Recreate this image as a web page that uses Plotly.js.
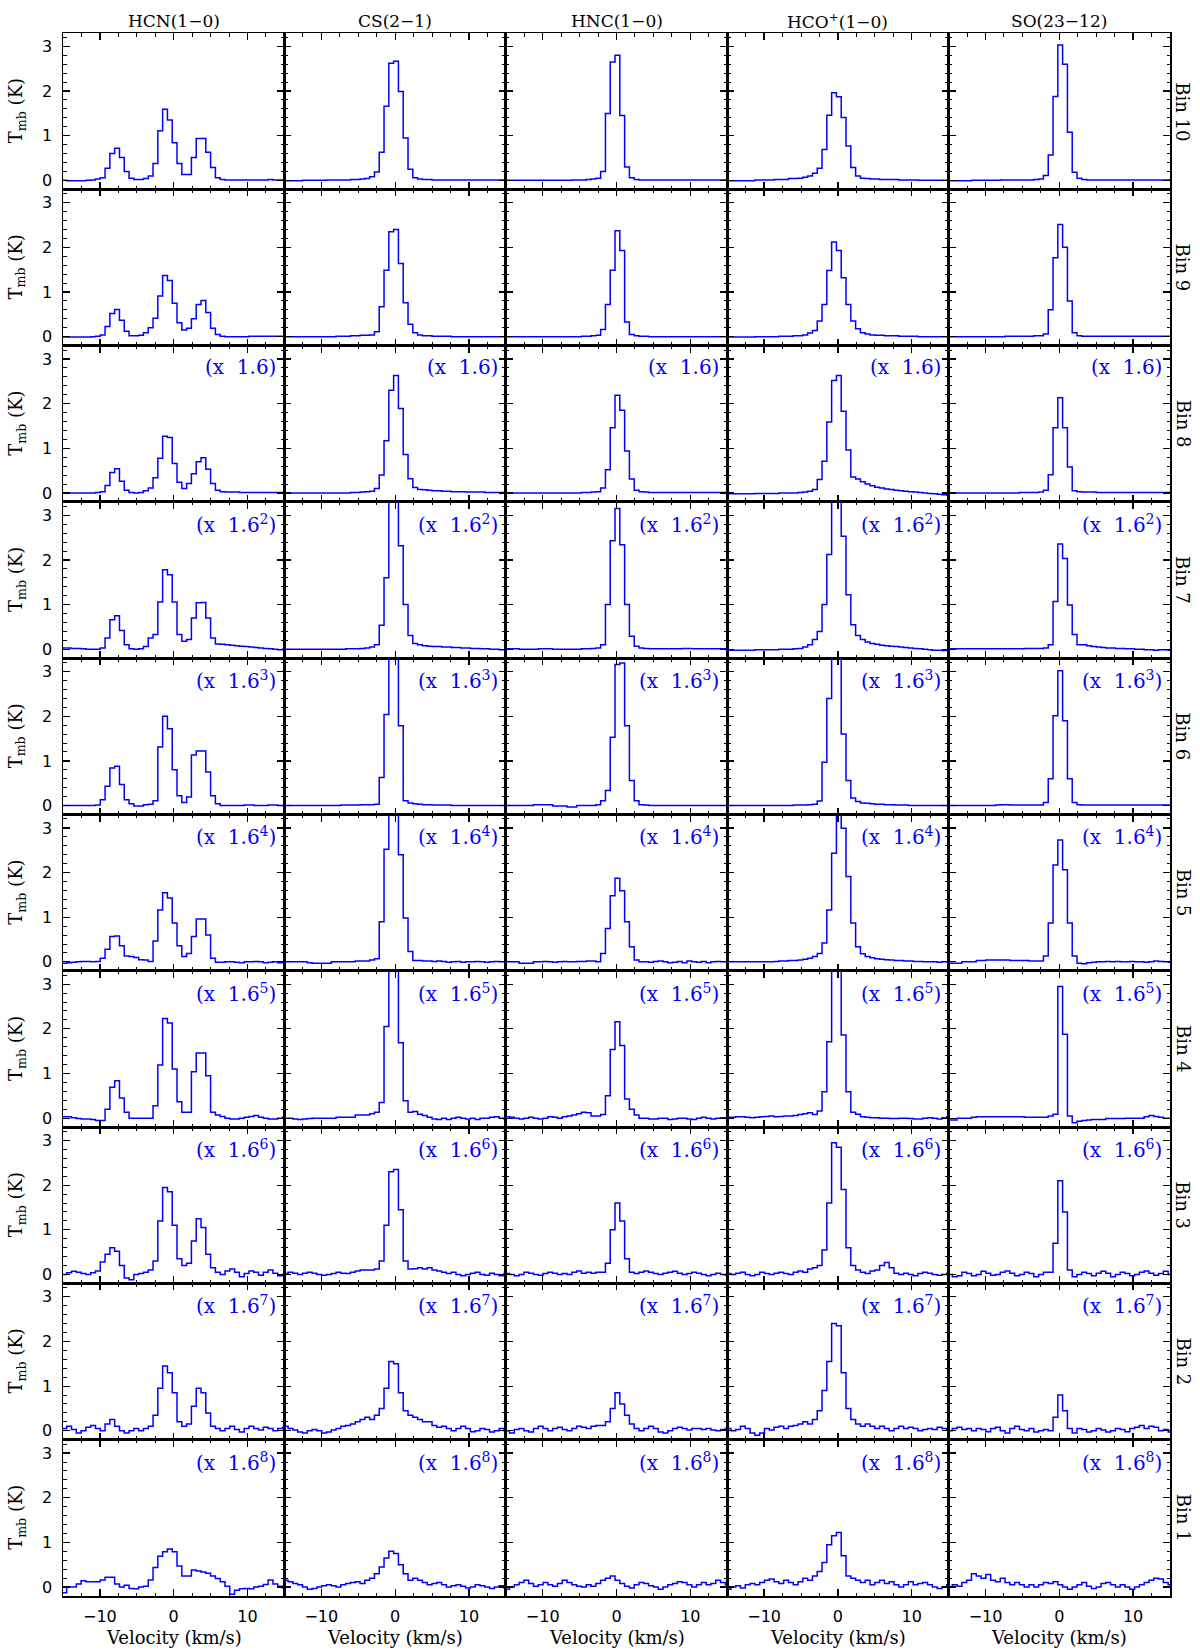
<!DOCTYPE html>
<html>
<head>
<meta charset="utf-8">
<script src="https://cdn.plot.ly/plotly-3.0.1.min.js"></script>
<style>html,body{margin:0;padding:0;background:#fff}</style>
</head>
<body>
<div id="chart" style="width:1200px;height:1652px"></div>
<script>
// channel centre velocities (km/s)
const velocity = [-14.825,-14.175,-13.525,-12.875,-12.225,-11.575,-10.925,-10.275,-9.625,-8.975,
 -8.325,-7.675,-7.025,-6.375,-5.725,-5.075,-4.425,-3.775,-3.125,-2.475,
 -1.825,-1.175,-0.525,0.125,0.775,1.425,2.075,2.725,3.375,4.025,
 4.675,5.325,5.975,6.625,7.275,7.925,8.575,9.225,9.875,10.525,
 11.175,11.825,12.475,13.125,13.775,14.425,15.075];

const lineNames = ['HCN(1\u22120)','CS(2\u22121)','HNC(1\u22120)','HCO<sup>+</sup>(1\u22120)','SO(23\u221212)'];
const binNames = ['Bin 10','Bin 9','Bin 8','Bin 7','Bin 6','Bin 5','Bin 4','Bin 3','Bin 2','Bin 1'];
const scaleExponents = [0,0,1,2,3,4,5,6,7,8];
const xTickVals = [-10,0,10];
const yTickVals = [0,1,2,3];

// ---- Bin 10 ----
const bin10_HCN = [0,-0.01,-0.01,-0.01,-0.01,0,0.01,0.03,0.06,0.27,
 0.6,0.72,0.51,0.2,0.05,0.02,0.02,0.04,0.1,0.38,
 1.11,1.59,1.35,0.84,0.38,0.13,0.13,0.51,0.94,0.94,
 0.63,0.29,0.06,0.02,0.01,0.01,0.01,0.01,0.01,0.01,
 0.01,0.01,0.01,0.02,0.01,0.01,0.01];
const bin10_CS = [-0.01,-0.01,-0.01,-0.01,0,0,0,0,0,0.01,
 0.01,0.01,0.01,0.01,0.02,0.02,0.03,0.04,0.08,0.19,
 0.63,1.66,2.62,2.67,1.99,0.95,0.25,0.06,0.03,0.02,
 0.02,0.01,0.01,0.01,0.01,0.01,0.01,0.01,0.01,0.01,
 0.01,0.01,0.01,0.01,0.01,0.01,0.01];
const bin10_HNC = [0,0,0,0,0,0,0,0,0,0,
 0,0,0,0,0.01,0.01,0.01,0.02,0.03,0.05,
 0.2,1.5,2.65,2.8,1.45,0.3,0.06,0.02,0.01,0.01,
 0.01,0.01,0.01,0.01,0.01,0.01,0.01,0.01,0.01,0.01,
 0.01,0.01,0.01,0.01,0.01,0.01,0.01];
const bin10_HCOp = [-0.01,-0.01,-0.01,-0.01,-0.01,-0.01,0.01,0.01,0.01,0.01,
 0.02,0.02,0.02,0.04,0.04,0.05,0.07,0.1,0.16,0.27,
 0.69,1.46,1.96,1.87,1.41,0.77,0.29,0.1,0.05,0.04,
 0.03,0.03,0.02,0.02,0.02,0.02,0.01,0.01,0.01,0.01,
 0,0,0,0,0,0,0];
const bin10_SO = [-0.01,-0.01,-0.01,-0.01,-0.01,0,0,0,0,0,
 0,0.01,0.01,0.01,0.01,0.01,0.01,0.01,0.02,0.03,
 0.11,0.57,1.88,3.03,2.6,1.08,0.18,0.05,0.02,0.01,
 0.01,0.01,0.01,0.01,0.01,0.01,0.01,0.01,0.01,0.01,
 0.01,0.01,0.01,0.01,0.01,0.01,0.01];

// ---- Bin 9 ----
const bin9_HCN = [-0.01,-0.01,-0.01,-0.01,-0.01,-0.01,0,0.01,0.04,0.23,
 0.52,0.61,0.37,0.12,0.02,0.02,0.03,0.09,0.2,0.41,
 0.91,1.37,1.26,0.75,0.31,0.15,0.19,0.4,0.72,0.81,
 0.54,0.19,0.05,0.01,0,0,0,0,0,0.01,
 0.01,0.01,0.01,0.01,0.01,0.01,0.01];
const bin9_CS = [0,0,0,0,0,0,0,0,0,0,
 0,0.01,0.01,0.01,0.02,0.02,0.03,0.03,0.04,0.11,
 0.67,1.49,2.35,2.4,1.64,0.76,0.28,0.09,0.04,0.02,
 0.02,0.01,0.01,0.01,0.01,0,0,0,0,0,
 0,0,0,0,0,0,0];
const bin9_HNC = [0,0,0,0,0,0,0,0,0,0,
 0,0,0,0,0,0,0.01,0.01,0.02,0.03,
 0.16,0.72,1.49,2.37,1.93,0.33,0.05,0.02,0.01,0.01,
 0,0,0,0,0,0,0,0,0,0,
 0,0,0,0,0,0,0];
const bin9_HCOp = [-0.01,-0.01,-0.01,-0.01,-0.01,-0.01,0,0,0,0,
 0,0.01,0.01,0.01,0.02,0.02,0.04,0.08,0.14,0.35,
 0.72,1.48,2.12,1.93,1.32,0.72,0.35,0.18,0.09,0.06,
 0.04,0.03,0.03,0.02,0.02,0.02,0.01,0.01,0.01,0.01,
 0,0,0,0,0,0,0];
const bin9_SO = [0,0,0,0,0,0,0,0,0,0,
 0,0,0.01,0.01,0.01,0.01,0.01,0.01,0.02,0.02,
 0.06,0.6,1.77,2.51,2.0,0.8,0.09,0.02,0.01,0.01,
 0.01,0.01,0.01,0.01,0.01,0.01,0.01,0.01,0.01,0.01,
 0.01,0.01,0.01,0.01,0.01,0.01,0.01];

// ---- Bin 8 ----
const bin8_HCN = [0,0,0,0,0,0,0,0.01,0.03,0.17,
 0.46,0.54,0.26,0.06,0.01,0,0.01,0.05,0.11,0.34,
 0.78,1.27,1.24,0.66,0.24,0.1,0.21,0.43,0.7,0.79,
 0.53,0.21,0.06,0.03,0.02,0.02,0.02,0.01,0.01,0.01,
 0.01,0.01,0.01,0.01,0.01,0.01,0.01];
const bin8_CS = [0,0,0,0,0,0,0,0,0,0,
 0,0,0,0,0.01,0.01,0.02,0.03,0.04,0.1,
 0.4,1.17,2.3,2.63,1.89,0.86,0.32,0.12,0.08,0.07,
 0.06,0.05,0.05,0.04,0.04,0.03,0.03,0.03,0.02,0.02,
 0.02,0.02,0.01,0.01,0.01,0.01,0.01];
const bin8_HNC = [0,0,0,0,0,0,0,0,0,0,
 0,0,0,0,0,0,0.01,0.01,0.02,0.03,
 0.11,0.52,1.46,2.19,1.85,0.94,0.31,0.06,0.03,0.02,
 0.01,0.01,0.01,0.01,0.01,0.01,0.01,0.01,0.01,0.01,
 0.01,0.01,0.01,0.01,0.01,0.01,0.01];
const bin8_HCOp = [-0.02,-0.02,-0.02,-0.02,-0.02,-0.02,-0.01,-0.01,-0.01,-0.01,
 -0.01,0,0,0,0,0.01,0.02,0.04,0.08,0.3,
 0.71,1.59,2.52,2.63,1.83,0.96,0.36,0.31,0.25,0.2,
 0.16,0.13,0.11,0.09,0.08,0.06,0.05,0.04,0.03,0.02,
 0.01,0,-0.01,-0.02,-0.03,-0.04,-0.05];
const bin8_SO = [0,0,0,0,0,0,0,0,0,0,
 0,0,0,0,0,0.01,0.01,0.01,0.01,0.02,
 0.06,0.41,1.46,2.13,1.46,0.58,0.05,0.03,0.02,0.02,
 0.02,0.01,0.01,0.01,0.01,0.01,0.01,0.01,0.01,0.01,
 0.01,0.01,0.01,0.01,0.01,0.01,0.01];

// ---- Bin 7 ----
const bin7_HCN = [0.03,0.03,0.02,0.02,0.01,0,0,0,0.03,0.25,
 0.66,0.75,0.42,0.1,0.01,0,0.01,0.06,0.25,0.33,
 1.06,1.78,1.67,1.06,0.33,0.18,0.22,0.7,1.04,1.05,
 0.7,0.25,0.12,0.11,0.1,0.09,0.08,0.07,0.06,0.05,
 0.04,0.03,0.02,0.01,0,-0.01,0];
const bin7_CS = [0,0,0,0,0,0,0,0,0,0,
 0,0,0,0.01,0.01,0.01,0.02,0.03,0.05,0.1,
 0.54,1.6,3.9,4.4,2.32,1.0,0.31,0.13,0.1,0.08,
 0.07,0.06,0.06,0.05,0.05,0.04,0.04,0.03,0.03,0.02,
 0.02,0.01,0.01,0,0,-0.01,-0.01];
const bin7_HNC = [0.01,0.01,0.01,0,0,0,0,0.01,0.01,0.01,
 0,0,0,0,0,0,0.01,0.01,0.02,0.03,
 0.1,1.0,2.43,3.15,2.34,1.0,0.29,0.07,0.03,0.02,
 0.01,0.01,0.01,0.01,0.01,0.01,0.01,0.02,0.02,0.01,
 0.01,0.01,0.01,0.01,0.01,0.01,0.01];
const bin7_HCOp = [-0.02,-0.02,-0.02,-0.02,-0.02,-0.02,-0.01,-0.01,-0.01,-0.01,
 -0.01,0,0,0,0.01,0.02,0.05,0.1,0.22,0.4,
 1.0,2.12,3.8,4.0,2.53,1.22,0.55,0.31,0.22,0.16,
 0.13,0.11,0.09,0.08,0.07,0.06,0.05,0.04,0.03,0.02,
 0.01,0,-0.01,-0.02,-0.02,-0.03,-0.03];
const bin7_SO = [0.01,0.01,0.01,0.01,0.01,0.01,0.01,0.01,0.01,0.01,
 0.01,0.01,0.01,0.01,0.01,0.01,0.02,0.02,0.02,0.02,
 0.03,0.1,1.07,2.36,2.03,0.99,0.33,0.1,0.1,0.08,
 0.06,0.05,0.04,0.03,0.03,0.02,0.02,0.01,0.01,0,
 0,-0.01,-0.01,-0.02,-0.01,-0.01,-0.02];

// ---- Bin 6 ----
const bin6_HCN = [0,0,0,0,0,0,0,0.01,0.13,0.43,
 0.84,0.88,0.47,0.13,0.04,-0.01,-0.01,0.02,0.03,0.11,
 1.31,2.0,1.72,0.8,0.22,0.07,0.19,1.13,1.22,1.22,
 0.75,0.22,0.04,0,0,0,0,0,0.01,0.01,
 0,0,0,0.01,0.01,0,0];
const bin6_CS = [0,0,0,0,0,0,0,0,0,0,
 0,0,0.01,0.01,0.01,0.01,0.02,0.02,0.02,0.03,
 0.63,2.04,4.5,4.5,1.79,0.11,0.06,0.04,0.03,0.02,
 0.02,0.01,0.01,0.01,0.01,0,0,0,0,0,
 0,0,0,0,0,0,0];
const bin6_HNC = [0,0,0,0,0,0,0.02,0.02,0.02,0.02,
 -0.01,-0.01,-0.01,-0.03,-0.03,0,0,0,0,0.02,
 0.11,0.34,1.53,3.16,3.19,1.79,0.56,0.11,0.02,0.01,
 0,0,0,0,0,0,0,0,0,0,
 0,0,0,0,0,0,0];
const bin6_HCOp = [0,0,0,0,0,0,0,0,0,0,
 0,0,0,0,0.01,0.01,0.01,0.02,0.03,0.1,
 0.97,2.4,4.5,4.5,1.6,0.56,0.17,0.09,0.06,0.05,
 0.04,0.03,0.03,0.02,0.02,0.01,0.01,0.01,0,0,
 0,0,0,0,0,0,0];
const bin6_SO = [0,0,0,0,0,0,0,0,0,0,
 0.01,0.02,0.02,0.01,0.01,0.01,0.01,0.01,0.01,0.01,
 0.07,0.6,2.01,3.02,1.9,0.6,0.07,0.02,0.01,0.01,
 0.01,0.01,0.01,0.01,0.01,0.01,0.01,0.01,0.01,0.01,
 0.01,0.01,0.01,0.01,0.01,0.01,0.01];

// ---- Bin 5 ----
const bin5_HCN = [-0.03,-0.02,-0.01,0,0.01,0.01,0,0.01,0.08,0.28,
 0.57,0.58,0.36,0.13,0.12,0.1,0.05,0.04,0.01,0.47,
 1.16,1.55,1.43,0.87,0.36,0.12,0.19,0.57,0.96,0.96,
 0.6,0.08,-0.01,-0.01,0,0,-0.01,-0.02,0,0,
 0.01,0,-0.02,-0.01,0,-0.02,-0.01];
const bin5_CS = [0,0,0,0,0,-0.02,-0.03,-0.03,-0.03,-0.03,
 0,0,0,0,0,0.02,0.02,0.02,0.04,0.07,
 0.9,2.52,4.8,4.8,2.4,0.98,0.23,0.03,0.03,0.02,
 0.02,0.01,0.02,0.01,-0.01,0,0.01,-0.01,0,0,
 0.01,0,-0.01,0,0.01,0,0];
const bin5_HNC = [0,0,0,-0.03,-0.03,-0.03,0,0,0.01,0,
 -0.01,0,0.01,0,0,0.01,0.01,0.02,0.02,0,
 0.19,0.75,1.48,1.87,1.59,0.9,0.34,0.04,0,0,
 -0.01,0.01,0.02,0,-0.02,-0.01,0.01,-0.02,0.02,0,
 -0.01,0.01,-0.02,0,0.01,0,0];
const bin5_HCOp = [0,0,0,0,0,0,0,0,0,0,
 0.01,0.02,0.02,0.03,0.03,0.04,0.06,0.08,0.12,0.19,
 0.42,1.16,2.43,3.35,2.99,1.91,0.87,0.34,0.18,0.12,
 0.09,0.07,0.06,0.05,0.04,0.03,0.03,0.02,0.02,0.01,
 0.01,0,0,0,-0.01,0,0];
const bin5_SO = [-0.03,-0.03,-0.03,0,0,0,0.03,0.03,0.04,0.04,
 0.04,0.04,0.04,0.03,0.03,0.03,0.03,0.02,0.02,0.02,
 0.13,0.87,2.17,2.73,2.06,0.87,0.13,-0.03,-0.04,-0.02,
 -0.01,0,0,0.01,0,0.01,0,0,0.01,0,
 0,-0.01,0,0.02,0.01,0,-0.01];

// ---- Bin 4 ----
const bin4_HCN = [0.03,0.03,0.01,-0.01,-0.02,-0.02,-0.03,-0.05,-0.05,0.2,
 0.69,0.84,0.45,0.13,0,0,0,0,0,0.28,
 1.19,2.23,2.13,1.1,0.37,0.13,0.13,1.04,1.46,1.46,
 0.95,0.13,0.07,0.04,0,-0.02,-0.02,0,0.02,0.04,
 0.06,0.02,0,-0.02,-0.02,0,0.02];
const bin4_CS = [0,0,-0.02,-0.03,-0.02,-0.01,0,0,0,0,
 0,0.02,0.02,0.02,0.02,0.07,0.07,0.07,0.1,0.13,
 0.35,2.05,5.5,5.5,1.69,0.39,0.13,0.15,0.09,0.06,
 0.02,-0.02,-0.03,0,-0.03,0,0.02,0,-0.02,0,
 -0.03,0,0,0.02,0.03,0,-0.02];
const bin4_HNC = [0.03,0.02,0,-0.02,0,0.02,0,-0.02,0,0.03,
 0.02,0,0.03,0.05,0.07,0.1,0.13,0.12,0.05,0.05,
 0.08,0.5,1.54,2.16,1.63,0.43,0.2,0.07,0,0,
 -0.02,-0.02,0,0,-0.03,-0.02,0,0,-0.02,-0.03,
 0,0.02,0,-0.02,0,0.01,0];
const bin4_HCOp = [0.02,0.02,0.03,0.03,0.02,0.01,0.02,0.03,0.04,0.05,
 0.03,0.04,0.05,0.05,0.06,0.08,0.1,0.12,0.08,0.16,
 0.59,1.71,5.0,5.0,1.86,0.59,0.13,0.09,0.03,0.02,
 0.01,0.01,0,0,-0.01,-0.01,0,0,-0.01,-0.02,
 -0.02,0,0.01,0,-0.02,0.01,0.03];
const bin4_SO = [-0.04,-0.04,0,0,0,0.02,0.03,0.03,0.03,0.03,
 0.03,0.03,0.03,0.03,0.03,0.03,0.02,0.02,0.02,0.02,
 0.02,0.05,0.09,2.95,1.88,0.05,-0.1,-0.07,-0.05,-0.04,
 -0.03,-0.03,-0.03,-0.01,-0.01,-0.01,-0.01,0,0,0,
 0,0.03,0.06,0.04,0.02,0,0];

// ---- Bin 3 ----
const bin3_HCN = [0,0.04,0.07,0.05,0.02,0,0.04,0.08,0.28,0.45,
 0.6,0.52,0.2,-0.08,-0.12,0,0.02,0.05,0.1,0.3,
 1.2,1.95,1.85,1.1,0.35,0.2,0.25,0.75,1.25,1.05,
 0.45,0.15,0.05,0,0.08,0.12,0.05,-0.05,0.02,0.08,
 0.05,-0.02,0.05,0.1,0.03,-0.03,0];
const bin3_CS = [0.02,0.05,0.03,0,0.03,0.05,0.03,0,-0.02,0,
 0.02,0.05,0.03,0.02,0.05,0.08,0.1,0.1,0.1,0.12,
 0.3,1.1,2.3,2.35,1.45,0.3,0.12,0.13,0.15,0.12,
 0.15,0.1,0.08,0.05,0.02,0.05,0,-0.03,0,0.03,
 0.05,0,-0.02,0.03,0,-0.03,0.02];
const bin3_HNC = [0.02,0,-0.03,0,0.05,0.03,0,-0.02,0.02,0.05,
 0.03,0,0.02,0,0.05,0.08,0.03,0.05,0.03,0.05,
 0.05,0.25,1.0,1.6,1.2,0.35,0.05,0.02,0.05,0.08,
 0.05,0.02,0,0.03,0.05,0.07,0.03,0,0.02,0.05,
 0.03,0,-0.03,0,0.03,0,-0.02];
const bin3_HCOp = [0.02,0,0.03,0.05,0,-0.03,0,0.05,0.02,0,
 0.03,0.05,0.02,0,0.05,0.08,0.05,0.12,0.15,0.2,
 0.55,1.6,2.95,2.85,1.9,0.6,0.2,0.1,0.05,0.02,
 0.08,0.1,0.2,0.27,0.15,0.03,0,0.03,0,-0.03,
 0.02,0.05,0.03,0,-0.02,0,0.03];
const bin3_SO = [0,-0.05,-0.03,0.05,0.02,-0.03,0,0.07,0.03,-0.02,
 0,0.05,0.08,0.03,-0.03,0,0.05,0.02,-0.05,0,
 0.05,0.05,0.7,2.1,1.4,0.1,-0.05,0,0.05,0.02,
 -0.03,0.03,0.07,0.03,-0.05,0,0.05,0.02,-0.03,0,
 0.05,0.08,0.03,-0.02,0.02,0.07,0];

// ---- Bin 2 ----
const bin2_HCN = [0.05,0.1,0.03,-0.05,0,0.08,0.12,0.05,0,0.15,
 0.25,0.1,0,-0.05,0,0.05,0,0.05,0.1,0.35,
 0.95,1.45,1.3,0.85,0.2,0.1,0.15,0.55,0.95,0.85,
 0.4,0.1,0.05,0,0.05,0.1,0.03,-0.03,0.05,0.1,
 0.05,0.02,0.08,0.05,0,0.05,0.08];
const bin2_CS = [0.1,0.05,0.02,-0.03,-0.05,0,0.03,0,-0.05,-0.03,
 0.02,0.05,0.1,0.12,0.15,0.2,0.25,0.3,0.25,0.35,
 0.5,0.95,1.55,1.5,0.85,0.45,0.35,0.3,0.25,0.2,
 0.2,0.12,0.08,0.1,0.05,0,0.05,0.1,0.05,-0.02,
 0,0.05,0.03,-0.03,0,0.05,0];
const bin2_HNC = [0,-0.05,0.03,0.05,0,-0.03,0.05,0.1,0.05,0,
 0.05,0.08,0.03,0,0.05,0.1,0.08,0.05,0.1,0.12,
 0.12,0.2,0.5,0.85,0.6,0.35,0.15,0.05,0,0.05,
 0.1,0.05,-0.03,-0.05,0,0.05,0.08,0.05,0.02,0.05,
 0.05,0.03,0.05,0.02,0,0.03,0.05];
const bin2_HCOp = [0.05,0,0.03,0.1,0.05,-0.05,-0.1,-0.05,0.05,0.02,
 0.08,0.1,0.05,0.1,0.12,0.15,0.2,0.15,0.25,0.45,
 0.9,1.55,2.4,2.35,1.3,0.5,0.25,0.15,0.1,0.15,
 0.1,0.05,0.1,0.05,0,0.05,0.1,0.05,0.08,0.05,
 0,0.03,0.05,0.03,0.08,0.05,0.02];
const bin2_SO = [0,0.05,0.08,0.03,0.05,0,0.05,0.03,-0.02,0.05,
 0.08,0,-0.05,0.05,0.1,0.03,0,0.05,-0.03,0,
 0.03,0,0.3,0.8,0.45,0.05,-0.05,0.05,0.03,-0.03,
 0,0.05,0.02,-0.03,0,0.05,0.03,-0.02,0.05,0.08,
 0.12,0.05,0.1,0.08,0,0.03,-0.03];

// ---- Bin 1 ----
const bin1_HCN = [-0.13,0,0,0.07,0.14,0.12,0.12,0.12,0.16,0.22,
 0.22,0.07,0,0.04,-0.03,-0.04,0,0.02,0.16,0.44,
 0.69,0.79,0.85,0.79,0.47,0.25,0.25,0.38,0.36,0.34,
 0.31,0.25,0.19,0.12,0.02,-0.16,-0.07,-0.04,-0.03,-0.04,
 0,0.02,0.06,0.16,0.07,0.02,-0.02];
const bin1_CS = [0.15,0.12,0.08,0.05,0,-0.05,-0.03,0,0.03,0.05,
 0.03,0,0.05,0.08,0.1,0.12,0.08,0.15,0.2,0.3,
 0.45,0.65,0.8,0.75,0.5,0.3,0.15,0.2,0.15,0.1,
 0.05,0.08,0.1,0.05,0,0.03,0.05,0.02,-0.02,0,
 0.05,0.03,0,-0.03,0,0.03,-0.02];
const bin1_HNC = [-0.05,0,0.05,0.1,0.15,0.08,0.02,0.05,0.1,0.05,
 0.02,0.08,0.15,0.1,0.05,0.02,0,0.05,0.02,0.08,
 0.15,0.2,0.25,0.15,0.08,0.02,-0.02,0.05,0.1,0.08,
 0.03,0,-0.05,0,0.05,0.08,0.12,0.1,0.05,0,
 0.05,0.1,0.05,0.08,0.15,0.1,0.05];
const bin1_HCOp = [-0.05,0,0.03,-0.02,0.05,0.08,0.05,0.1,0.15,0.18,
 0.12,0.08,0.15,0.1,0.05,0.12,0.2,0.15,0.25,0.35,
 0.55,0.95,1.15,1.22,0.7,0.25,0.2,0.15,0.1,0.15,
 0.05,0.1,0.15,0.08,0.12,0.05,0,0.05,0.12,0.05,
 0.08,0.1,0.05,0,-0.03,0,0.05];
const bin1_SO = [0,0.05,0.02,0.1,0.15,0.3,0.25,0.2,0.28,0.15,
 0.12,0.2,0.1,0.05,0.1,0.05,0,0.05,0,0.05,
 0.1,0.08,0.12,0.05,0,-0.05,0,0.05,0.1,0.02,
 -0.03,0,0.08,0.1,0.05,0,0.05,0,-0.05,0,
 0.05,0.1,0.15,0.2,0.18,0.1,0.05];

const spectra = [
  [bin10_HCN, bin10_CS, bin10_HNC, bin10_HCOp, bin10_SO],
  [bin9_HCN, bin9_CS, bin9_HNC, bin9_HCOp, bin9_SO],
  [bin8_HCN, bin8_CS, bin8_HNC, bin8_HCOp, bin8_SO],
  [bin7_HCN, bin7_CS, bin7_HNC, bin7_HCOp, bin7_SO],
  [bin6_HCN, bin6_CS, bin6_HNC, bin6_HCOp, bin6_SO],
  [bin5_HCN, bin5_CS, bin5_HNC, bin5_HCOp, bin5_SO],
  [bin4_HCN, bin4_CS, bin4_HNC, bin4_HCOp, bin4_SO],
  [bin3_HCN, bin3_CS, bin3_HNC, bin3_HCOp, bin3_SO],
  [bin2_HCN, bin2_CS, bin2_HNC, bin2_HCOp, bin2_SO],
  [bin1_HCN, bin1_CS, bin1_HNC, bin1_HCOp, bin1_SO]
];

// channel edges for step drawing
const half = (velocity[1] - velocity[0]) / 2;
const edges = velocity.map(v => v - half).concat([velocity[velocity.length - 1] + half]);

const NR = 10, NC = 5;
const serif = 'DejaVu Serif, Liberation Serif, serif';
const sans = 'DejaVu Sans, Liberation Sans, sans-serif';
const blue = '#0000ff';

const traces = [];
const layout = {
  width: 1200, height: 1652,
  margin: {l: 63, r: 30, t: 33, b: 56},
  paper_bgcolor: '#fff', plot_bgcolor: '#fff',
  showlegend: false,
  annotations: []
};

for (let r = 0; r < NR; r++) {
  for (let c = 0; c < NC; c++) {
    const n = r * NC + c + 1;
    const sfx = n === 1 ? '' : String(n);
    const vals = spectra[r][c];
    traces.push({
      type: 'scatter', mode: 'lines',
      x: edges, y: vals.concat([vals[vals.length - 1]]),
      xaxis: 'x' + sfx, yaxis: 'y' + sfx,
      line: {shape: 'hv', color: blue, width: 1.5},
      hoverinfo: 'skip'
    });
    const common = {
      showgrid: false, zeroline: false, showline: true,
      linecolor: '#000', linewidth: 1.5, mirror: 'allticks',
      ticks: 'inside', tickcolor: '#000', tickwidth: 1.2, ticklen: 7,
      fixedrange: true
    };
    layout['xaxis' + sfx] = Object.assign({}, common, {
      domain: [c / NC, (c + 1) / NC],
      anchor: 'y' + sfx,
      range: [-15, 15],
      tickmode: 'array', tickvals: xTickVals,
      minor: {dtick: 2.5, tick0: 0, ticks: 'inside', ticklen: 3.5, tickwidth: 1, tickcolor: '#000'},
      showticklabels: r === NR - 1,
      tickfont: {family: sans, size: 16, color: '#000'},
      ticklabelstandoff: 5
    });
    layout['yaxis' + sfx] = Object.assign({}, common, {
      domain: [1 - (r + 1) / NR, 1 - r / NR],
      anchor: 'x' + sfx,
      range: [-0.2, 3.3],
      tickmode: 'array', tickvals: yTickVals,
      minor: {dtick: 0.2, tick0: 0, ticks: 'inside', ticklen: 3.5, tickwidth: 1, tickcolor: '#000'},
      showticklabels: c === 0,
      tickfont: {family: sans, size: 16, color: '#000'},
      ticklabelstandoff: 6
    });
    if (scaleExponents[r] > 0) {
      const e = scaleExponents[r];
      layout.annotations.push({
        xref: 'x' + sfx + ' domain', yref: 'y' + sfx + ' domain',
        x: 1, y: 0.86, xanchor: 'right', yanchor: 'middle', xshift: -6,
        showarrow: false,
        text: '(x\u00a0 1.6' + (e > 1 ? '<sup>' + e + '</sup>' : '') + ')',
        font: {family: serif, size: 20, color: blue}
      });
    }
  }
}

const plotH = 1652 - 33 - 56, plotW = 1200 - 63 - 30;
// column titles and x titles
lineNames.forEach((t, c) => {
  layout.annotations.push({
    xref: 'paper', yref: 'paper', x: (c + 0.5) / NC, y: (1596 - 21) / plotH,
    xanchor: 'center', yanchor: 'middle', showarrow: false,
    text: t, font: {family: serif, size: 17, color: '#000'}
  });
  layout.annotations.push({
    xref: 'paper', yref: 'paper', x: (c + 0.5) / NC, y: (1596 - 1637) / plotH,
    xanchor: 'center', yanchor: 'middle', showarrow: false,
    text: 'Velocity (km/s)', font: {family: serif, size: 18, color: '#000'}
  });
});
// row labels and y titles
binNames.forEach((t, r) => {
  const yc = 1 - (r + 0.5) / NR;
  layout.annotations.push({
    xref: 'paper', yref: 'paper', x: (1183 - 63) / plotW, y: yc,
    xanchor: 'center', yanchor: 'middle', showarrow: false, textangle: 90,
    text: t, font: {family: serif, size: 18, color: '#000'}
  });
  layout.annotations.push({
    xref: 'paper', yref: 'paper', x: (17 - 63) / plotW, y: yc,
    xanchor: 'center', yanchor: 'middle', showarrow: false, textangle: -90,
    text: 'T<sub>mb</sub> (K)', font: {family: serif, size: 18, color: '#000'}
  });
});

Plotly.newPlot('chart', traces, layout, {displayModeBar: false, staticPlot: true});
</script>
</body>
</html>
